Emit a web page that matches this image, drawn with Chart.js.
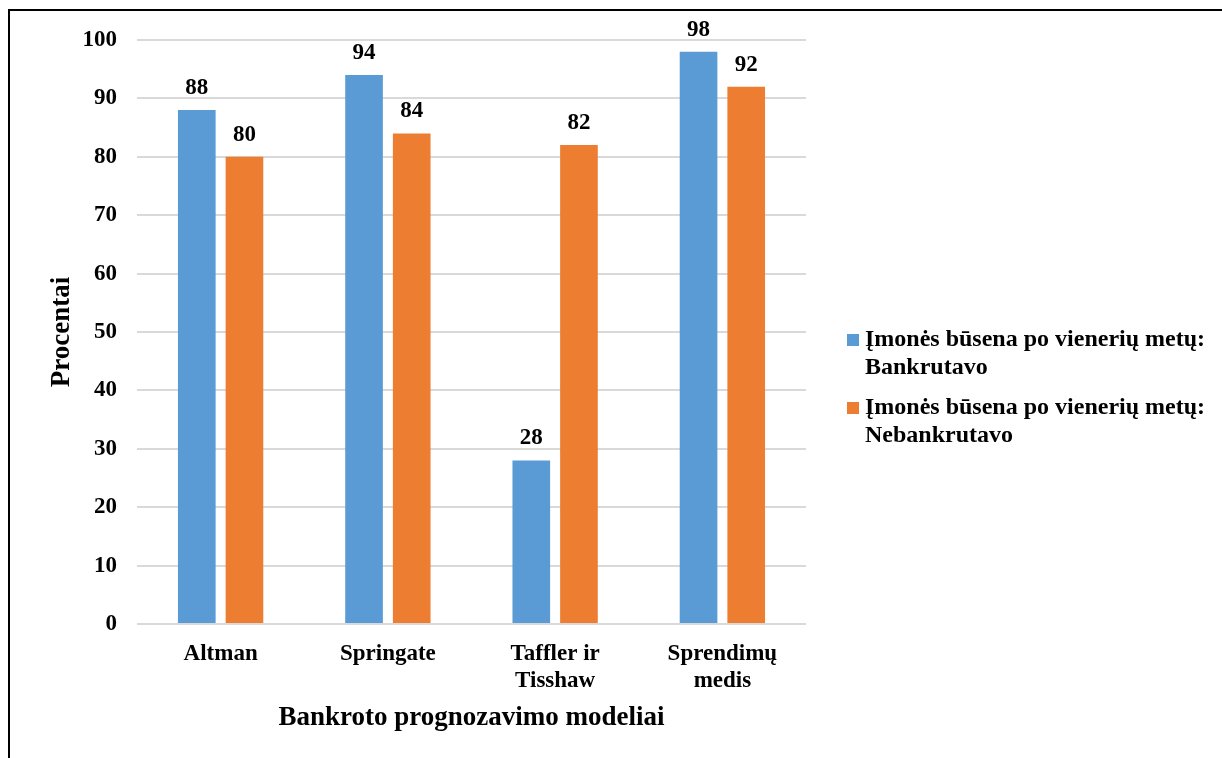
<!DOCTYPE html>
<html>
<head>
<meta charset="utf-8">
<script src="https://cdn.jsdelivr.net/npm/chart.js@4.4.1/dist/chart.umd.min.js"></script>
<style>
  html, body { margin: 0; padding: 0; background: #fff; overflow: hidden; }
  #frame { position: absolute; left: 8px; top: 9px; width: 1400px; height: 900px; border: 2px solid #000; }
  #wrap { position: absolute; left: 0; top: 0; width: 1222px; height: 758px; }
</style>
</head>
<body>
<div id="frame"></div>
<div id="wrap"><canvas id="chart"></canvas></div>
<script>
// ---- duomenys ----
const kategorijos = ["Altman", "Springate", ["Taffler ir", "Tisshaw"], ["Sprendimų", "medis"]];
const bankrutavo = [88, 94, 28, 98];
const nebankrutavo = [80, 84, 82, 92];
const serijuPavadinimai = [
    ["Įmonės būsena po vienerių metų:", "Bankrutavo"],
    ["Įmonės būsena po vienerių metų:", "Nebankrutavo"]
];
const yTickai = [0, 10, 20, 30, 40, 50, 60, 70, 80, 90, 100];

const MELYNA = "#5B9BD5";
const ORANZINE = "#ED7D31";
const SRIFTAS = "'Liberation Serif', 'Times New Roman', serif";

Chart.defaults.font.family = SRIFTAS;
Chart.defaults.color = "#000";

// reikšmės virš stulpelių
const reiksmiuPlugin = {
    id: "reiksmes",
    afterDatasetsDraw(chart) {
        const ctx = chart.ctx;
        ctx.save();
        ctx.font = "bold 23px " + SRIFTAS;
        ctx.fillStyle = "#000";
        ctx.textAlign = "center";
        ctx.textBaseline = "alphabetic";
        chart.data.datasets.forEach((ds, i) => {
            chart.getDatasetMeta(i).data.forEach((bar, j) => {
                ctx.fillText(String(ds.data[j]), bar.x, bar.y - 16);
            });
        });
        ctx.restore();
    }
};

// legenda dešinėje
const legendaPlugin = {
    id: "legenda",
    afterDraw(chart) {
        const ctx = chart.ctx;
        ctx.save();
        ctx.font = "bold 24px " + SRIFTAS;
        ctx.textAlign = "left";
        ctx.textBaseline = "middle";
        const startY = [340, 408];
        chart.data.datasets.forEach((ds, i) => {
            const y = startY[i];
            ctx.fillStyle = ds.backgroundColor;
            ctx.fillRect(847, y - 6, 12, 12);
            ctx.fillStyle = "#000";
            serijuPavadinimai[i].forEach((eil, k) => {
                ctx.fillText(eil, 865, y + k * 28);
            });
        });
        ctx.restore();
    }
};

new Chart(document.getElementById("chart"), {
    type: "bar",
    data: {
        labels: kategorijos,
        datasets: [
            { label: serijuPavadinimai[0].join(" "), data: bankrutavo, backgroundColor: MELYNA,
              categoryPercentage: 0.57, barPercentage: 0.79 },
            { label: serijuPavadinimai[1].join(" "), data: nebankrutavo, backgroundColor: ORANZINE,
              categoryPercentage: 0.57, barPercentage: 0.79 }
        ]
    },
    options: {
        responsive: true,
        maintainAspectRatio: false,
        animation: false,
        layout: { padding: { left: 46, right: 416, top: 40, bottom: 24 } },
        plugins: {
            legend: { display: false },
            tooltip: { enabled: false }
        },
        scales: {
            x: {
                grid: { display: false },
                border: { display: false },
                ticks: { font: { size: 23, weight: "bold" }, padding: 8, maxRotation: 0 },
                title: {
                    display: true,
                    text: "Bankroto prognozavimo modeliai",
                    font: { size: 27, weight: "bold" },
                    padding: { top: 0, bottom: 0 }
                },
                afterFit(axis) { axis.height = 110; }
            },
            y: {
                min: 0,
                max: 100,
                afterBuildTicks(axis) { axis.ticks = yTickai.map(v => ({ value: v })); },
                grid: { color: "#d9d9d9", lineWidth: 2, drawTicks: false },
                border: { display: false },
                ticks: { font: { size: 23, weight: "bold" }, padding: 20 },
                title: {
                    display: true,
                    text: "Procentai",
                    font: { size: 27, weight: "bold" },
                    padding: { top: 0, bottom: 0 }
                },
                afterFit(axis) { axis.width = 91; }
            }
        }
    },
    plugins: [reiksmiuPlugin, legendaPlugin]
});
</script>
</body>
</html>
